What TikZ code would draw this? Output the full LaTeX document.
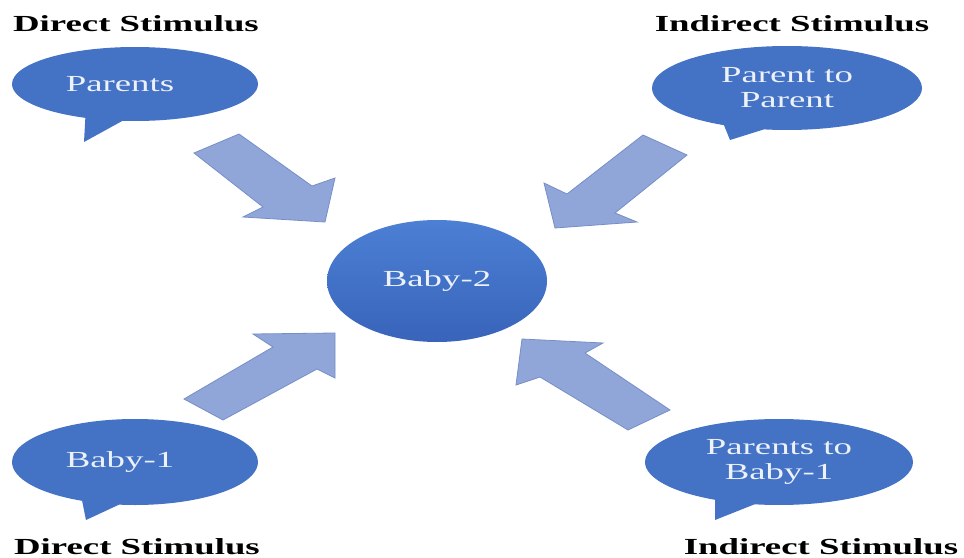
\documentclass[tikz,border=0pt]{standalone}
\usepackage{fontspec}
\setmainfont{Liberation Serif}[FakeStretch=1.6]
\usepackage{tikz}
\usetikzlibrary{shapes.geometric,shapes.callouts,positioning,calc}
\definecolor{bubbleBlue}{RGB}{68,114,196}
\definecolor{hubTop}{RGB}{76,128,212}
\definecolor{hubBottom}{RGB}{56,100,186}
\definecolor{arrowFill}{RGB}{145,166,216}
\definecolor{arrowEdge}{RGB}{118,142,200}
\definecolor{bubbleText}{RGB}{236,241,250}

\begin{document}
\begin{tikzpicture}[x=0.5pt,y=-0.5pt,
    bubble/.style={ellipse callout, fill=bubbleBlue, text=bubbleText, inner sep=0pt,
      align=center, callout pointer arc=18, font=\fontsize{11.5}{12.5}\selectfont},
    hub/.style={ellipse, top color=hubTop, bottom color=hubBottom, text=bubbleText,
      inner sep=0pt, font=\fontsize{11.5}{12.5}\selectfont},
    heading/.style={anchor=base, font=\fontsize{11.5}{12.5}\selectfont\bfseries},
    blockarrow/.style={fill=arrowFill, draw=arrowEdge, line width=0.4pt, line join=miter}]
      \useasboundingbox[fill=white] (0,0) rectangle (964,557);
      % pointer tips of the callouts
      \coordinate (tipPar) at (84,142);
      \coordinate (tipPtP) at (730,140);
      \coordinate (tipBa1) at (86,520);
      \coordinate (tipPtB) at (715,520);
      \node[bubble, minimum width=123pt, minimum height=37pt, callout absolute pointer={(tipPar)}]
        (parents) at (135,84) {Parents\hspace*{15pt}};
      \node[bubble, minimum width=135pt, minimum height=42pt, callout absolute pointer={(tipPtP)}]
        (parToPar) at (787,88) {Parent to\\Parent};
      \node[bubble, minimum width=123pt, minimum height=43pt, callout absolute pointer={(tipBa1)}]
        (baby1) at (135,462) {Baby-1\hspace*{15pt}};
      \node[bubble, minimum width=134pt, minimum height=43pt, callout absolute pointer={(tipPtB)}]
        (parToBaby) at (779,462) {Parents to\\Baby-1};
      \node[hub, minimum width=110pt, minimum height=61pt] (baby2) at (437,281) {Baby-2};
      % block arrows towards Baby-2
      \filldraw[blockarrow] (239,134) -- (312,186) -- (335,178) -- (325,222) -- (243,217) -- (263,207) -- (194,153) -- cycle;
      \filldraw[blockarrow] (643,135) -- (687,155) -- (615,213) -- (637,222) -- (555,228) -- (544,183) -- (567,194) -- cycle;
      \filldraw[blockarrow] (184,399) -- (223,420) -- (317,369) -- (335,378) -- (335,333) -- (253,334) -- (273,347) -- cycle;
      \filldraw[blockarrow] (670,410) -- (628,430) -- (540,377) -- (516,385) -- (522,339) -- (603,343) -- (585,353) -- cycle;
      \node[heading] (hdTL) at (136,32) {Direct Stimulus};
      \node[heading] (hdTR) at (792,32) {Indirect Stimulus};
      \node[heading] (hdBL) at (137,554) {Direct Stimulus};
      \node[heading] (hdBR) at (821,554) {Indirect Stimulus};
    \end{tikzpicture}
\end{document}
